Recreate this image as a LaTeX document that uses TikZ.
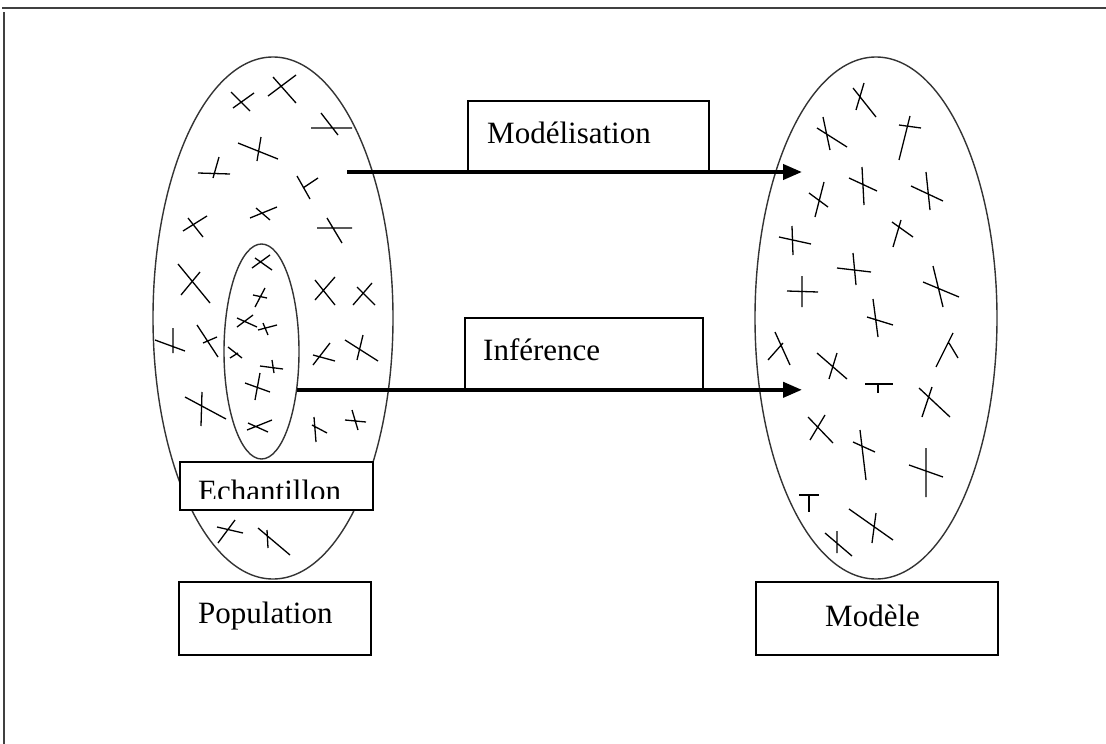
\documentclass[tikz,border=0pt]{standalone}
\usepackage{fontspec}
\setmainfont{Liberation Serif}
\usetikzlibrary{positioning,calc,arrows.meta,shapes.geometric}
\tikzset{
	diagram/.style={x=1pt,y=-1pt,font=\fontsize{31}{37}\selectfont},
	frameline/.style={line width=2.5pt,draw=black!75},
	universe/.style={ellipse,draw=black!80,line width=1.4pt,inner sep=0pt},
	labelbox/.style={rectangle,draw,line width=1.8pt,fill=white,inner sep=0pt,anchor=north west},
	labeltext/.style={anchor=base west,inner sep=0pt},
	flow/.style={-{Triangle[length=19pt,width=15pt]},line width=4pt},
	xline/.style={line width=1.3pt}
}

\begin{document}
\begin{tikzpicture}[diagram]
	\useasboundingbox (0,0) rectangle (1106,744);
	\draw[frameline] (2,8) -- (1106,8);
	\draw[frameline] (4,12) -- (4,744);

	\node[universe, minimum width=240, minimum height=522] (pop) at (273,318) {};
	\node[universe, minimum width=75, minimum height=215] (ech) at (261.5,351.5) {};
	\node[universe, minimum width=242, minimum height=522] (mod) at (876,318) {};

	\foreach \ax/\ay/\bx/\by/\cx/\cy/\dx/\dy in {
		231/92/250/111/233/108/254/93, 268/96/296/75/273/77/296/103,
		311/128/352/128/321/113/338/135, 238/143/278/159/261/137/257/161,
		198/173/230/174/219/157/213/178, 297/176/310/199/303/188/318/178,
		183/231/207/216/188/218/203/237, 250/218/277/207/256/208/270/220,
		317/228/352/228/327/218/342/243, 178/264/210/303/181/295/200/272,
		315/280/335/305/315/300/335/277, 353/305/372/283/357/287/375/305,
		252/268/270/255/255/258/272/270, 255/307/265/288/253/295/267/298,
		237/327/253/315/237/318/257/327, 258/330/277/325/263/323/268/335,
		155/340/185/351/173/328/173/353, 197/325/218/357/203/343/217/337,
		228/347/242/358/230/358/238/353, 313/365/330/343/313/355/335/361,
		345/340/378/361/363/335/357/360, 260/366/283/369/272/360/274/373,
		245/383/270/392/260/373/255/400, 185/397/226/419/202/392/201/426,
		247/430/272/420/248/423/268/432, 314/417/316/442/312/425/327/433,
		345/420/366/422/352/410/358/430, 218/543/235/520/217/527/243/533,
		258/528/290/555/267/530/268/548,
		853/88/876/117/856/110/864/83, 817/128/847/147/823/117/830/150,
		899/160/910/116/899/125/921/128, 862/167/864/205/849/178/877/191,
		926/172/930/210/911/186/943/201, 815/217/824/182/809/193/828/207,
		792/226/793/255/779/237/811/244, 893/247/901/220/892/222/913/237,
		853/253/856/285/837/268/871/272, 802/276/802/307/787/291/818/292,
		933/266/943/307/923/282/959/297, 873/299/878/337/867/317/893/325,
		775/332/790/365/783/343/768/360, 953/333/936/367/949/343/958/358,
		817/353/847/379/837/353/829/379, 865/384/893/384/878/384/878/393,
		919/388/950/417/932/387/922/417, 808/417/833/443/810/440/825/415,
		860/430/866/480/853/442/875/452, 926/448/926/497/909/465/943/477,
		799/495/819/495/809/495/809/512, 849/509/893/540/876/513/872/543,
		825/533/852/556/837/531/837/553}
		\draw[xline] (\ax,\ay) -- (\bx,\by) (\cx,\cy) -- (\dx,\dy);

	\node[labelbox, minimum width=241, minimum height=71] (modbox) at (467,100) {};
	\node[labelbox, minimum width=238, minimum height=72] (infbox) at (464,317) {};
	\node[labelbox, minimum width=193, minimum height=48] (echbox) at (179,461) {};
	\node[labelbox, minimum width=192, minimum height=73] (popbox) at (178,581) {};
	\node[labelbox, minimum width=242, minimum height=73] (mdlbox) at (755,581) {};

	\node[labeltext] (modtxt) at ($(modbox.north west)+(20,43)$) {Modélisation};
	\node[labeltext] (inftxt) at ($(infbox.north west)+(19,43)$) {Inférence};
	\node[labeltext] (poptxt) at ($(popbox.north west)+(20,42)$) {Population};
	\node[labeltext] (mdltxt) at ($(mdlbox.north west)+(70,45)$) {Modèle};
	\begin{scope}
		\clip (echbox.north west) rectangle ($(echbox.south east)+(0,-12)$);
		\node[labeltext] (echtxt) at ($(echbox.north west)+(19,40)$) {Echantillon};
	\end{scope}

	\coordinate (modstart) at (347,172);
	\coordinate (modtip) at (802,172);
	\coordinate (inftip) at (802,389);
	\draw[flow] (modstart) -- (modtip);
	\draw[flow] (ech.-47) -- (ech.-47 -| inftip);
\end{tikzpicture}
\end{document}
